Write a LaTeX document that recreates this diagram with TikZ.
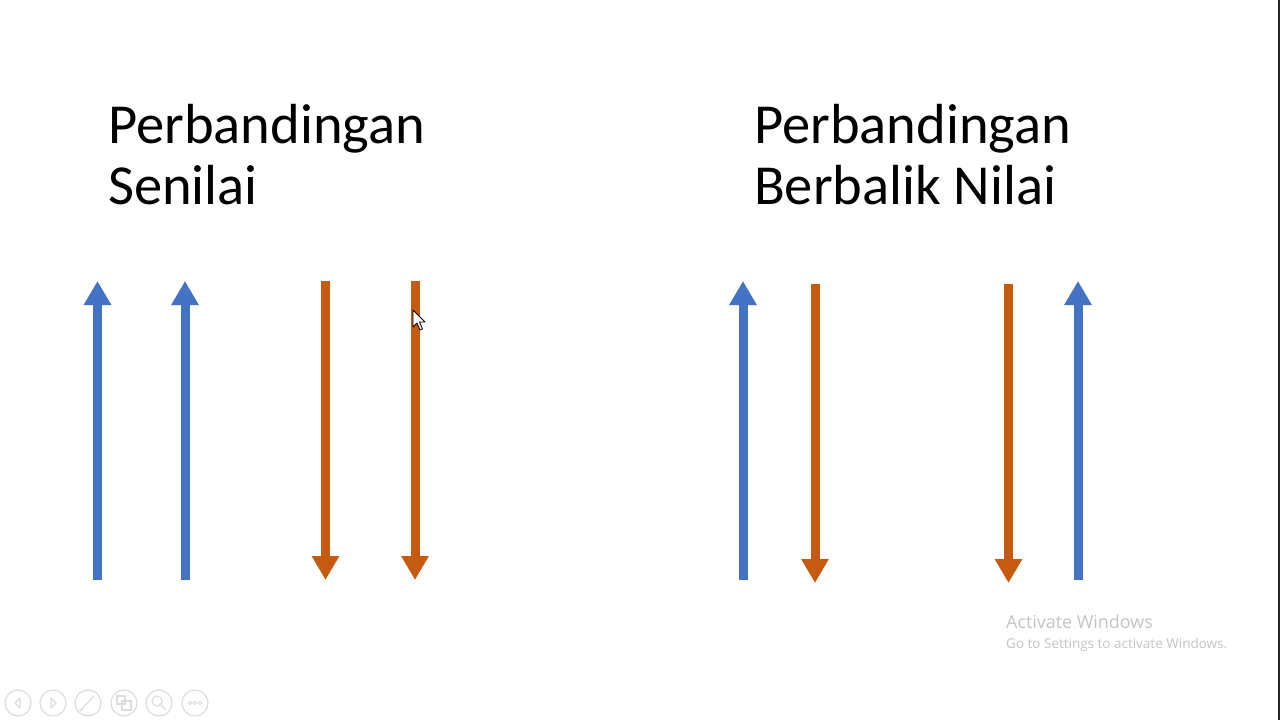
\documentclass[tikz,border=0pt]{standalone}
\usepackage{fontspec}
\setmainfont{Carlito}
\newfontfamily\winfont{Open Sans}
\usetikzlibrary{arrows.meta}
\definecolor{upblue}{HTML}{4472C4}
\definecolor{downorange}{HTML}{C55A11}
\definecolor{wmgray}{HTML}{C4C4C4}
\definecolor{icongray}{HTML}{DCDCDC}
\tikzset{
  title/.style={anchor=base west, inner sep=0pt, font=\fontsize{56.5}{56.5}\selectfont, text=black},
  uparrow/.style={draw=upblue, line width=9pt, -{Triangle[width=26pt,length=24pt]}},
  downarrow/.style={draw=downorange, line width=9pt, -{Triangle[width=26pt,length=24pt]}},
  wm/.style={anchor=base west, inner sep=0pt, text=wmgray},
  iconring/.style={draw=icongray, line width=1.2pt, circle, minimum size=26pt, inner sep=0pt},
  icon/.style={draw=icongray, line width=1.1pt}
}
\begin{document}
\begin{tikzpicture}[x=1pt,y=-1pt]
\useasboundingbox (0,0) rectangle (1280,720);
\fill[white] (0,0) rectangle (1280,720);
\fill[black!85] (1278,0) rectangle (1280,720);

% titles
\node[title] (t1a) at (108,143) {Perbandingan};
\node[title] (t1b) at (108,204) {Senilai};
\node[title] (t2a) at (754,143) {Perbandingan};
\node[title] (t2b) at (754,204) {Berbalik Nilai};

% left group
\coordinate (a1s) at (97.5,580);  \coordinate (a1e) at (97.5,281);
\coordinate (a2s) at (185,580);   \coordinate (a2e) at (185,281);
\coordinate (a3s) at (325.5,281); \coordinate (a3e) at (325.5,580);
\coordinate (a4s) at (415,281);   \coordinate (a4e) at (415,580);
\draw[uparrow] (a1s) -- (a1e);
\draw[uparrow] (a2s) -- (a2e);
\draw[downarrow] (a3s) -- (a3e);
\draw[downarrow] (a4s) -- (a4e);

% right group
\coordinate (b1s) at (743,580);  \coordinate (b1e) at (743,281);
\coordinate (b2s) at (815,284);  \coordinate (b2e) at (815,583);
\coordinate (b3s) at (1008.5,284); \coordinate (b3e) at (1008.5,583);
\coordinate (b4s) at (1078,580); \coordinate (b4e) at (1078,281);
\draw[uparrow] (b1s) -- (b1e);
\draw[downarrow] (b2s) -- (b2e);
\draw[downarrow] (b3s) -- (b3e);
\draw[uparrow] (b4s) -- (b4e);

% mouse cursor
\draw[fill=white, draw=black, line width=0.8pt, line join=round]
  (413,310) -- (413,327) -- (417,323) -- (420,330) -- (422.5,329) -- (419.5,322) -- (425,322) -- cycle;

% watermark
\node[wm, font=\winfont\fontsize{17.9}{17.9}\selectfont] (w1) at (1006,628) {Activate Windows};
\node[wm, font=\winfont\fontsize{13.5}{13.5}\selectfont] (w2) at (1006,648) {Go to Settings to activate Windows.};

% slideshow toolbar
\node[iconring] (i1) at (18,703) {};
\node[iconring] (i2) at (53,703) {};
\node[iconring] (i3) at (88,703) {};
\node[iconring] (i4) at (124,703) {};
\node[iconring] (i5) at (159,703) {};
\node[iconring] (i6) at (195,703) {};
\draw[icon, line join=round] (20,698) -- (15,703) -- (20,708) -- cycle;
\draw[icon, line join=round] (51,698) -- (56,703) -- (51,708) -- cycle;
\draw[icon] (81,710) -- (94,696);
\draw[icon] (80,711) -- (83,708);
\draw[icon] (117,696) rectangle (125,704);
\draw[icon] (122,701) rectangle (131,710);
\draw[icon] (157,701) circle (5);
\draw[icon] (161,705) -- (166,710);
\foreach \dx in {-5,0,5} \draw[icon, line width=0.9pt] (195+\dx,703) circle (1.8);
\end{tikzpicture}
\end{document}
